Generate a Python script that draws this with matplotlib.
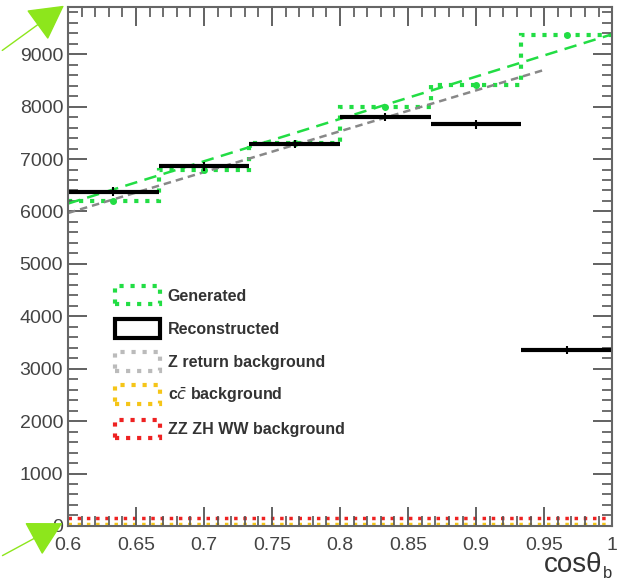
import numpy as np
import matplotlib
matplotlib.use('Agg')
import matplotlib.pyplot as plt
from matplotlib.patches import Patch, FancyArrowPatch

plt.rcParams['font.family'] = ['Liberation Sans', 'DejaVu Sans']

# ============================================================
#  資料
# ============================================================
bin_edges = [0.6, 0.6667, 0.7333, 0.8, 0.8667, 0.9333, 1.0]
reconstructed = [6380, 6860, 7290, 7800, 7660, 3360]
generated = [6200, 6800, 7310, 7990, 8420, 9370]
zz_zh_ww_bkg = [150, 150, 150, 150, 150, 150]
cc_bkg = [40, 40, 40, 40, 40, 40]

# 直線擬合 (兩端點)
gen_fit_x = [0.6, 1.0]
gen_fit_y = [6150, 9380]
zret_x = [0.6, 0.95]
zret_y = [5970, 8700]

legend_labels = ['Generated', 'Reconstructed', 'Z return background',
                 r'c$\bar{c}$ background', 'ZZ ZH WW background']

# ============================================================
#  畫圖
# ============================================================
fig = plt.figure(figsize=(6.24, 5.85), dpi=100)
ax = fig.add_axes([0.109, 0.101, 0.872, 0.887])

edges = np.array(bin_edges)
centers = 0.5 * (edges[:-1] + edges[1:])

green = '#22dd44'
ax.plot(gen_fit_x, gen_fit_y, color=green, ls=(0, (5, 3)), lw=1.8)
ax.plot(zret_x, zret_y, color='#888888', ls=(0, (3, 2)), lw=1.8)
ax.stairs(generated, edges, color=green, ls=':', lw=3, baseline=None)
ax.plot(centers, generated, 'o', color=green, ms=4)

ax.stairs(zz_zh_ww_bkg, edges, color='#ee2222', ls=':', lw=2.5, baseline=None)
ax.stairs(cc_bkg, edges, color='#f5c518', ls=':', lw=2.5, baseline=None)

ax.hlines(reconstructed, edges[:-1], edges[1:], color='black', lw=3)
ax.errorbar(centers, reconstructed, yerr=[80] * 6, fmt='none', ecolor='black', lw=1.5)

ax.set_xlim(0.6, 1.0)
ax.set_ylim(0, 9900)
ax.set_xticks(np.arange(0.6, 1.001, 0.05))
ax.set_xticklabels(['0.6', '0.65', '0.7', '0.75', '0.8', '0.85', '0.9', '0.95', '1'])
ax.set_xticks(np.arange(0.6, 1.001, 0.01), minor=True)
ax.set_yticks(np.arange(0, 9001, 1000))
ax.set_yticks(np.arange(0, 9900, 200), minor=True)

ax.tick_params(which='both', direction='in', top=True, right=True,
               labelsize=14, labelcolor='#444444', color='#555555')
ax.tick_params(which='major', length=14, width=1.3)
ax.tick_params(which='minor', length=7, width=1.2)
ax.tick_params(axis='x', pad=8)
for s in ax.spines.values():
    s.set_color('#666666')
    s.set_linewidth(1.5)

handles = [
    Patch(facecolor='none', edgecolor=green, ls=':', lw=3),
    Patch(facecolor='none', edgecolor='black', lw=3),
    Patch(facecolor='none', edgecolor='#bbbbbb', ls=':', lw=3),
    Patch(facecolor='none', edgecolor='#f5c518', ls=':', lw=3),
    Patch(facecolor='none', edgecolor='#ee2222', ls=':', lw=3),
]
leg = ax.legend(handles, legend_labels, loc='upper left',
                bbox_to_anchor=(0.06, 0.49), frameon=False,
                handlelength=2.8, handleheight=1.4, labelspacing=0.92,
                handletextpad=0.5,
                prop={'size': 11.5, 'weight': 'bold'})
for t in leg.get_texts():
    t.set_color('#333333')

fig.text(0.872, 0.022, 'cosθ', fontsize=20, color='#333333')
fig.text(0.966, 0.012, 'b', fontsize=12, color='#333333')

# 綠色箭頭
lime = '#8de61c'
for start, end in [((0.0, 0.911), (0.106, 0.993)), ((0.0, 0.048), (0.104, 0.108))]:
    fig.add_artist(FancyArrowPatch(start, end, transform=fig.transFigure,
                                   arrowstyle='-|>,head_length=11,head_width=6',
                                   color=lime, lw=1.0, mutation_scale=2))

fig.savefig('out.png', dpi=100)
